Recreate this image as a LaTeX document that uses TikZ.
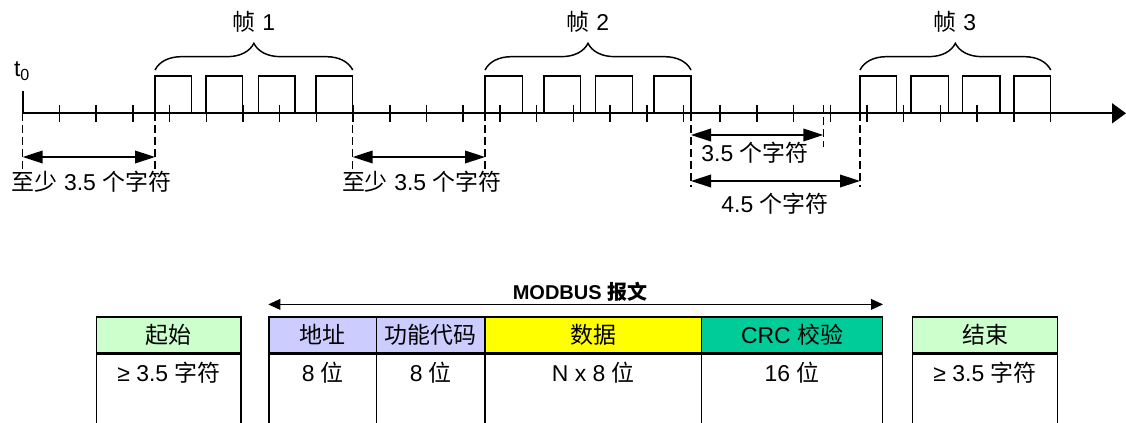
\documentclass[tikz,border=0pt]{standalone}
\usepackage{fontspec}
\setmainfont{Liberation Sans}
\newfontfamily\cjk{Noto Sans CJK SC}
\usetikzlibrary{arrows.meta,decorations.pathreplacing,calc}
\newcommand{\zh}[1]{{\cjk #1}}
\definecolor{hdrgreen}{HTML}{CCFFCC}
\definecolor{hdrblue}{HTML}{CCCCFF}
\definecolor{hdryellow}{HTML}{FFFF00}
\definecolor{hdrcrc}{HTML}{00CC99}
\begin{document}
\begin{tikzpicture}[x=0.75pt,y=-0.75pt,
  every node/.style={font=\fontsize{17.2}{20}\selectfont, inner sep=0pt},
  axisline/.style={line width=1.3pt},
  tickline/.style={line width=1.1pt},
  pulse/.style={line width=1.1pt},
  dashline/.style={line width=1.1pt, dash pattern=on 6pt off 3pt},
  dimarrow/.style={line width=1.1pt, {Triangle[length=15pt,width=9.5pt]}-{Triangle[length=15pt,width=9.5pt]}},
  framebrace/.style={decorate, decoration={brace, amplitude=20pt}, line width=1.1pt},
  cell/.style={draw, line width=1.1pt, minimum height=26.8pt, inner sep=0pt},
  body/.style={draw, line width=1.1pt, minimum height=60pt, anchor=north, inner sep=0pt},
]
\useasboundingbox (0,0) rectangle (1126,423);
\clip (0,0) rectangle (1126,423);

% ---------- timeline ----------
\coordinate (t0) at (22.7,113.3);
\coordinate (f1s) at (155,113.3);
\coordinate (f1e) at (352.7,113.3);
\coordinate (f2s) at (485,113.3);
\coordinate (f2e) at (691,113.3);
\coordinate (g35) at (823.3,113.3);
\coordinate (f3s) at (860,113.3);
\coordinate (f3e) at (1050.7,113.3);
\coordinate (axend) at (1126,113.3);

\draw[axisline, -{Triangle[length=10.5pt,width=15pt]}] (t0) -- (axend);
\draw[axisline] (t0) -- ++(0,-22);
\node (t0lbl) at (22,71) {t\textsubscript{0}};

\foreach \k in {1,...,28}
  \draw[tickline] ({22.7+36.71*\k},105) -- ({22.7+36.71*\k},121.7);

% pulses
\foreach \a/\b in {155/191.7, 206/242.7, 258.3/295, 316/352.7,
                   485/522.3, 544/580.7, 595.7/632.3, 654/691,
                   860/896.7, 911/948.3, 962.7/1000, 1014/1050.7}
  \draw[pulse] (\a,113.3) -- (\a,76) -- (\b,76) -- (\b,113.3);

% braces
\draw[framebrace] (155,70) -- (352.7,70);
\draw[framebrace] (485,70) -- (691,70);
\draw[framebrace] (860,70) -- (1050.7,70);
\node (fr1) at (254,22) {\zh{帧} 1};
\node (fr2) at (588,22) {\zh{帧} 2};
\node (fr3) at (955,22) {\zh{帧} 3};

% dashed guides
\draw[dashline] (t0) -- ++(0,58);
\draw[dashline] (f1s) -- ++(0,58);
\draw[dashline] (f1e) -- ++(0,58);
\draw[dashline] (f2s) -- ++(0,58);
\draw[dashline] (f2e) -- ++(0,74);
\draw[dashline] (f3s) -- ++(0,74);
\draw[dashline] ($(g35)+(0,-8)$) -- ++(0,42);

% dimension arrows
\draw[dimarrow] ($(t0)+(0,43.7)$) -- ($(f1s)+(0,43.7)$);
\draw[dimarrow] ($(f1e)+(0,43.7)$) -- ($(f2s)+(0,43.7)$);
\draw[dimarrow] ($(f2e)+(0,21.7)$) -- ($(g35)+(0,21.7)$);
\draw[dimarrow] ($(f2e)+(0,67.7)$) -- ($(f3s)+(0,67.7)$);

\node (l1) at (91.5,182) {\zh{至少} 3.5 \zh{个字符}};
\node (l2) at (421.7,182) {\zh{至少} 3.5 \zh{个字符}};
\node (l3) at (755,153) {3.5 \zh{个字符}};
\node (l4) at (775,204) {4.5 \zh{个字符}};

% ---------- frame table ----------
\node[cell, fill=hdrgreen, minimum width=108.2pt] (start) at (168.85,335) {\zh{起始}};
\node[body, minimum width=108.2pt] (startb) at (start.south) {};
\node (startt) at (168.85,373) {≥ 3.5 \zh{字符}};

\node[cell, fill=hdrblue, minimum width=80.8pt] (addr) at (322.85,335) {\zh{地址}};
\node[body, minimum width=80.8pt] (addrb) at (addr.south) {};
\node (addrt) at (322.85,373) {8 \zh{位}};

\node[cell, fill=hdrblue, minimum width=81.2pt] (func) at (430.85,335) {\zh{功能代码}};
\node[body, minimum width=81.2pt] (funcb) at (func.south) {};
\node (funct) at (430.85,373) {8 \zh{位}};

\node[cell, fill=hdryellow, minimum width=162.5pt] (data) at (593.35,335) {\zh{数据}};
\node[body, minimum width=162.5pt] (datab) at (data.south) {};
\node (datat) at (593.35,373) {N x 8 \zh{位}};

\node[cell, fill=hdrcrc, minimum width=135.45pt] (crc) at (792,335) {CRC \zh{校验}};
\node[body, minimum width=135.45pt] (crcb) at (crc.south) {};
\node (crct) at (792,373) {16 \zh{位}};

\node[cell, fill=hdrgreen, minimum width=108.45pt] (end) at (985,335) {\zh{结束}};
\node[body, minimum width=108.45pt] (endb) at (end.south) {};
\node (endt) at (985,373) {≥ 3.5 \zh{字符}};

% MODBUS message arrow
\coordinate (mL) at ($(addr.north west)+(0,-12)$);
\coordinate (mR) at ($(crc.north east)+(0,-12)$);
\draw[line width=1pt, {Triangle[length=9pt,width=8pt]}-{Triangle[length=9pt,width=8pt]}] (mL) -- (mR);
\node[font=\bfseries\fontsize{15}{18}\selectfont] (mlbl) at (580,292) {MODBUS \zh{报文}};
\end{tikzpicture}
\end{document}
